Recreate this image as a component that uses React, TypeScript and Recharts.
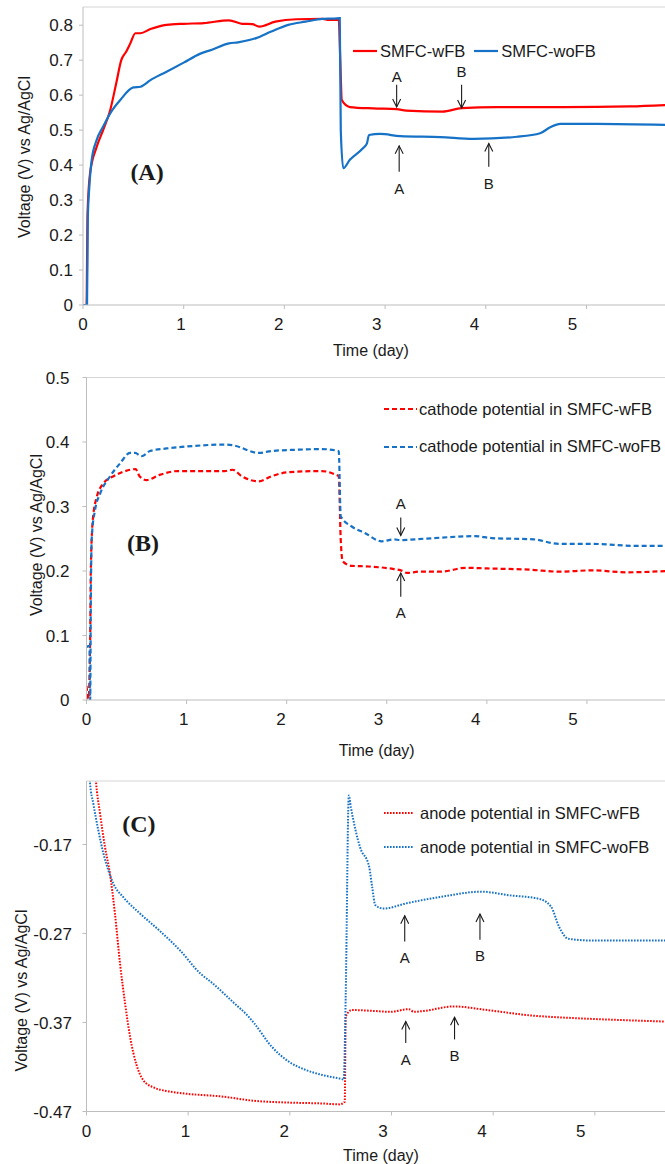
import React from 'react';
import {
  LineChart,
  Line,
  XAxis,
  YAxis,
  Legend,
  Label,
  ReferenceLine,
  ReferenceDot,
} from 'recharts';

const FONT = "'Liberation Sans', Arial, sans-serif";
const NARROW = "'Liberation Sans Narrow', 'Arial Narrow', 'Liberation Sans', Arial, sans-serif";
const SERIF = "'Liberation Serif', 'Times New Roman', serif";
const RED = '#ff0000';
const BLUE = '#1572c6';
const AXIS = '#bdbdbd';
const FRAME = '#d6d6d6';
const INK = '#1a1a1a';

const DAY_TICKS = [0, 1, 2, 3, 4, 5];
const A_TICKS = [0, 0.1, 0.2, 0.3, 0.4, 0.5, 0.6, 0.7, 0.8];
const B_TICKS = [0, 0.1, 0.2, 0.3, 0.4, 0.5];
const C_TICKS = [-0.47, -0.37, -0.27, -0.17];

const A_NAMES = ['SMFC-wFB', 'SMFC-woFB'];
const B_NAMES = ['cathode potential in SMFC-wFB', 'cathode potential in SMFC-woFB'];
const C_NAMES = ['anode potential in SMFC-wFB', 'anode potential in SMFC-woFB'];

// [day, volts]
const A_WFB = [
  [0, 0], [0.035, 0], [0.045, 0.26], [0.07, 0.376], [0.136, 0.452], [0.2, 0.5],
  [0.27, 0.557], [0.33, 0.634], [0.38, 0.7], [0.43, 0.725], [0.47, 0.748],
  [0.52, 0.777], [0.57, 0.777], [0.67, 0.789], [0.83, 0.801], [1.0, 0.804],
  [1.2, 0.806], [1.45, 0.814], [1.58, 0.804], [1.68, 0.803], [1.75, 0.796],
  [1.91, 0.81], [2.12, 0.817], [2.38, 0.818], [2.44, 0.815], [2.54, 0.815],
  [2.555, 0.7], [2.57, 0.586], [2.65, 0.566], [2.88, 0.562], [3.115, 0.56],
  [3.21, 0.556], [3.57, 0.553], [3.76, 0.563], [4.11, 0.566], [4.77, 0.566],
  [5.43, 0.568], [5.8, 0.572],
];
const A_WOFB = [
  [0, 0], [0.04, 0], [0.048, 0.25], [0.063, 0.338], [0.086, 0.414], [0.136, 0.472],
  [0.2, 0.51], [0.27, 0.548], [0.37, 0.586], [0.5, 0.622], [0.57, 0.624],
  [0.67, 0.643], [0.83, 0.667], [1.0, 0.693], [1.16, 0.718], [1.28, 0.73],
  [1.45, 0.748], [1.54, 0.751], [1.72, 0.763], [1.87, 0.782], [2.04, 0.801],
  [2.21, 0.81], [2.38, 0.818], [2.5, 0.819], [2.55, 0.82], [2.56, 0.5],
  [2.585, 0.391], [2.65, 0.415], [2.78, 0.448], [2.82, 0.462], [2.84, 0.486],
  [2.95, 0.489], [3.15, 0.483], [3.55, 0.48], [3.88, 0.475], [4.31, 0.481],
  [4.54, 0.491], [4.64, 0.508], [4.74, 0.518], [5.1, 0.518], [5.8, 0.515],
];

const B_WFB = [
  [0, 0.022], [0.02, 0.002], [0.037, 0.098], [0.043, 0.2], [0.063, 0.279],
  [0.103, 0.315], [0.17, 0.336], [0.27, 0.347], [0.37, 0.354], [0.49, 0.358],
  [0.53, 0.347], [0.6, 0.341], [0.73, 0.349], [0.914, 0.355], [1.38, 0.355],
  [1.46, 0.357], [1.55, 0.347], [1.72, 0.339], [1.85, 0.347], [2.01, 0.353],
  [2.35, 0.355], [2.48, 0.35], [2.52, 0.347], [2.54, 0.249], [2.56, 0.215],
  [2.65, 0.208], [2.82, 0.207], [3.07, 0.203], [3.14, 0.201], [3.2, 0.197],
  [3.33, 0.199], [3.54, 0.199], [3.79, 0.205], [4.0, 0.204], [4.43, 0.202],
  [4.72, 0.199], [5.06, 0.201], [5.4, 0.198], [5.8, 0.2],
];
const B_WOFB = [
  [0, 0.082], [0.03, 0.084], [0.037, 0.0], [0.043, 0.149], [0.053, 0.253],
  [0.086, 0.295], [0.136, 0.32], [0.236, 0.347], [0.336, 0.367], [0.435, 0.383],
  [0.485, 0.383], [0.55, 0.378], [0.635, 0.386], [0.8, 0.39], [1.0, 0.393],
  [1.38, 0.396], [1.46, 0.395], [1.72, 0.383], [1.85, 0.386], [2.1, 0.388],
  [2.35, 0.389], [2.52, 0.386], [2.54, 0.285], [2.65, 0.269], [2.78, 0.259],
  [2.95, 0.246], [3.07, 0.249], [3.14, 0.248], [3.37, 0.25], [3.88, 0.254],
  [4.05, 0.251], [4.47, 0.249], [4.72, 0.242], [5.06, 0.242], [5.48, 0.239],
  [5.8, 0.239],
];

const C_WFB = [
  [0.07, -0.06], [0.093, -0.099], [0.133, -0.135], [0.182, -0.173], [0.231, -0.203],
  [0.28, -0.248], [0.33, -0.304], [0.38, -0.349], [0.43, -0.387], [0.49, -0.417],
  [0.56, -0.435], [0.66, -0.443], [0.79, -0.447], [0.98, -0.45], [1.32, -0.453],
  [1.65, -0.458], [1.99, -0.46], [2.32, -0.461], [2.49, -0.462], [2.54, -0.459],
  [2.55, -0.363], [2.61, -0.356], [2.82, -0.357], [2.99, -0.358], [3.17, -0.355],
  [3.22, -0.358], [3.32, -0.357], [3.61, -0.352], [3.94, -0.356], [4.36, -0.362],
  [4.78, -0.365], [5.2, -0.367], [5.7, -0.369],
];
const C_WOFB = [
  [0.02, -0.06], [0.034, -0.1], [0.067, -0.124], [0.116, -0.154], [0.166, -0.18],
  [0.215, -0.199], [0.264, -0.214], [0.36, -0.229], [0.53, -0.248], [0.72, -0.267],
  [0.92, -0.289], [1.12, -0.315], [1.23, -0.325], [1.45, -0.348], [1.59, -0.363],
  [1.65, -0.371], [1.82, -0.397], [1.99, -0.414], [2.15, -0.423], [2.32, -0.429],
  [2.49, -0.433], [2.53, -0.434], [2.55, -0.337], [2.58, -0.115], [2.6, -0.128],
  [2.69, -0.173], [2.78, -0.195], [2.81, -0.218], [2.84, -0.238], [2.92, -0.242],
  [3.15, -0.236], [3.53, -0.228], [3.88, -0.223], [4.15, -0.227], [4.45, -0.231],
  [4.57, -0.24], [4.65, -0.263], [4.74, -0.276], [4.99, -0.278], [5.7, -0.278],
];

// arrow notes: [day, tail, tip, letter, letter y]
const A_NOTES = [
  [3.115, 0.63, 0.566, 'A', 0.653],
  [3.76, 0.63, 0.563, 'B', 0.668],
  [3.14, 0.381, 0.455, 'A', 0.334],
  [4.03, 0.395, 0.462, 'B', 0.348],
];
const B_NOTES = [
  [3.14, 0.283, 0.255, 'A', 0.305],
  [3.14, 0.16, 0.197, 'A', 0.136],
];
const C_NOTES = [
  [3.13, -0.279, -0.25, 'A', -0.297],
  [3.87, -0.277, -0.248, 'B', -0.295],
  [3.14, -0.393, -0.369, 'A', -0.412],
  [3.62, -0.389, -0.364, 'B', -0.407],
];

const toPts = (rows: number[][]) => rows.map(([t, v]) => ({ t, v }));

function Arrow(props: any) {
  const { x1, y1, x2, y2 } = props;
  const dir = y2 > y1 ? 1 : -1;
  return (
    <g>
      <line x1={x1} y1={y1} x2={x2} y2={y2} stroke={INK} strokeWidth={1.1} />
      <polyline
        points={`${x2 - 4},${y2 - dir * 8} ${x2},${y2} ${x2 + 4},${y2 - dir * 8}`}
        fill="none"
        stroke={INK}
        strokeWidth={1.1}
      />
    </g>
  );
}

function DayTick(props: any) {
  const { x, y, payload } = props;
  // labels in the source drift a little left of their tick marks
  return (
    <text
      x={x - payload.value * 2.8}
      y={y}
      dy="0.71em"
      textAnchor="middle"
      fontSize={17}
      fill={INK}
      fontFamily={FONT}
    >
      {payload.value}
    </text>
  );
}

function LegendBox({ items, row, sample, space, gap }: any) {
  return (
    <div
      style={{
        display: 'flex',
        flexDirection: row ? 'row' : 'column',
        gap,
        fontFamily: FONT,
        fontSize: 16.5,
        color: INK,
      }}
    >
      {items.map((s: any) => (
        <div key={s.name} style={{ display: 'flex', alignItems: 'center', height: 20, whiteSpace: 'nowrap' }}>
          <svg width={sample} height={4} style={{ marginRight: space }}>
            <line x1={0} y1={2} x2={sample} y2={2} stroke={s.color} strokeWidth={s.width} strokeDasharray={s.dash} />
          </svg>
          <span>{s.name}</span>
        </div>
      ))}
    </div>
  );
}

function titleAt(text: string, cx: number, cy: number, rotate: boolean) {
  return () => (
    <text
      x={cx}
      y={cy}
      textAnchor="middle"
      dominantBaseline="central"
      transform={rotate ? `rotate(-90 ${cx} ${cy})` : undefined}
      fontSize={16}
      fill={INK}
      fontFamily={FONT}
    >
      {text}
    </text>
  );
}

const PANELS = [
  {
    tag: '(A)', tagAt: [0.636, 0.38], top: 0, height: 360, marginTop: 7, yWidth: 83, xHeight: 55,
    xMax: 5.78, yDomain: [0, 0.852], yTicks: A_TICKS, yTickGap: 6,
    series: [
      { name: A_NAMES[0], data: toPts(A_WFB), color: RED, dash: undefined, width: 2.2 },
      { name: A_NAMES[1], data: toPts(A_WOFB), color: BLUE, dash: undefined, width: 2.2 },
    ],
    notes: A_NOTES, yTitle: [24, 157], xTitle: [371, 350],
    legend: { left: 353, top: 41, row: true, sample: 24, space: 3, gap: 9 },
  },
  {
    tag: '(B)', tagAt: [0.564, 0.244], top: 370, height: 390, marginTop: 7.5, yWidth: 86.5, xHeight: 60,
    xMax: 5.78, yDomain: [0, 0.5], yTicks: B_TICKS, yTickGap: 13,
    series: [
      { name: B_NAMES[0], data: toPts(B_WFB), color: RED, dash: '5 3', width: 2.2 },
      { name: B_NAMES[1], data: toPts(B_WOFB), color: BLUE, dash: '5 3', width: 2.2 },
    ],
    notes: B_NOTES, yTitle: [36.5, 165], xTitle: [376.7, 380],
    legend: { left: 384, top: 29.3, row: false, sample: 33, space: 2, gap: 17.4 },
  },
  {
    tag: '(C)', tagAt: [0.516, -0.147], top: 770, height: 394, marginTop: 11, yWidth: 86.5, xHeight: 52.5,
    xMax: 5.69, yDomain: [-0.47, -0.0987], yTicks: C_TICKS, yTickGap: 10.5,
    series: [
      { name: C_NAMES[0], data: toPts(C_WFB), color: RED, dash: '1.6 1.4', width: 2 },
      { name: C_NAMES[1], data: toPts(C_WOFB), color: BLUE, dash: '1.6 1.4', width: 2 },
    ],
    notes: C_NOTES, yTitle: [21.7, 220.5], xTitle: [381, 385],
    legend: { left: 384, top: 33.3, row: false, sample: 30, space: 6, gap: 14 },
  },
];

function Panel(p: any) {
  return (
    <div style={{ position: 'absolute', left: 0, top: p.top, width: 665, height: p.height }}>
      <LineChart width={665} height={p.height} margin={{ top: p.marginTop, right: 0, bottom: 0, left: 0 }}>
        <XAxis
          type="number"
          dataKey="t"
          domain={[0, p.xMax]}
          ticks={DAY_TICKS}
          interval={0}
          allowDataOverflow
          height={p.xHeight}
          axisLine={{ stroke: AXIS }}
          tickLine={{ stroke: AXIS }}
          tickSize={4}
          tickMargin={9}
          tick={<DayTick />}
        >
          <Label content={titleAt('Time (day)', p.xTitle[0], p.xTitle[1], false)} />
        </XAxis>
        <YAxis
          type="number"
          domain={p.yDomain}
          ticks={p.yTicks}
          interval={0}
          allowDataOverflow
          width={p.yWidth}
          axisLine={{ stroke: AXIS }}
          tickLine={{ stroke: AXIS }}
          tickSize={4}
          tickMargin={p.yTickGap}
          tick={{ fill: INK, fontSize: 17, fontFamily: FONT }}
        >
          <Label content={titleAt('Voltage (V) vs Ag/AgCl', p.yTitle[0], p.yTitle[1], true)} />
        </YAxis>
        <ReferenceLine y={p.yDomain[1]} stroke={FRAME} strokeWidth={1.2} />
        {p.series.map((s: any) => (
          <Line
            key={s.name}
            name={s.name}
            data={s.data}
            dataKey="v"
            type="monotone"
            stroke={s.color}
            strokeWidth={s.width}
            strokeDasharray={s.dash}
            dot={false}
            activeDot={false}
            isAnimationActive={false}
          />
        ))}
        {p.notes.map((n: any, i: number) => (
          <ReferenceLine
            key={`arrow-${i}`}
            segment={[{ x: n[0], y: n[1] }, { x: n[0], y: n[2] }]}
            shape={<Arrow />}
          />
        ))}
        {p.notes.map((n: any, i: number) => (
          <ReferenceDot
            key={`note-${i}`}
            x={n[0]}
            y={n[4]}
            r={0}
            shape={(d: any) => (
              <text
                x={d.cx}
                y={d.cy}
                textAnchor="middle"
                dominantBaseline="central"
                fontSize={15}
                fill={INK}
                fontFamily={NARROW}
              >
                {n[3]}
              </text>
            )}
          />
        ))}
        <ReferenceDot
          x={p.tagAt[0]}
          y={p.tagAt[1]}
          r={0}
          shape={(d: any) => (
            <text
              x={d.cx}
              y={d.cy}
              textAnchor="middle"
              dominantBaseline="central"
              fontSize={24}
              fontWeight="bold"
              fill={INK}
              fontFamily={SERIF}
            >
              {p.tag}
            </text>
          )}
        />
        <Legend
          layout="vertical"
          align="center"
          verticalAlign="middle"
          wrapperStyle={{ left: p.legend.left, top: p.legend.top, width: 'auto', height: 'auto', bottom: 'auto' }}
          content={() => (
            <LegendBox
              items={p.series}
              row={p.legend.row}
              sample={p.legend.sample}
              space={p.legend.space}
              gap={p.legend.gap}
            />
          )}
        />
      </LineChart>
    </div>
  );
}

export default function App() {
  return (
    <div
      style={{
        position: 'absolute',
        left: 0,
        top: 0,
        width: 665,
        height: 1164,
        background: '#fff',
        overflow: 'hidden',
      }}
    >
      {PANELS.map((p) => (
        <Panel key={p.tag} {...p} />
      ))}
    </div>
  );
}
